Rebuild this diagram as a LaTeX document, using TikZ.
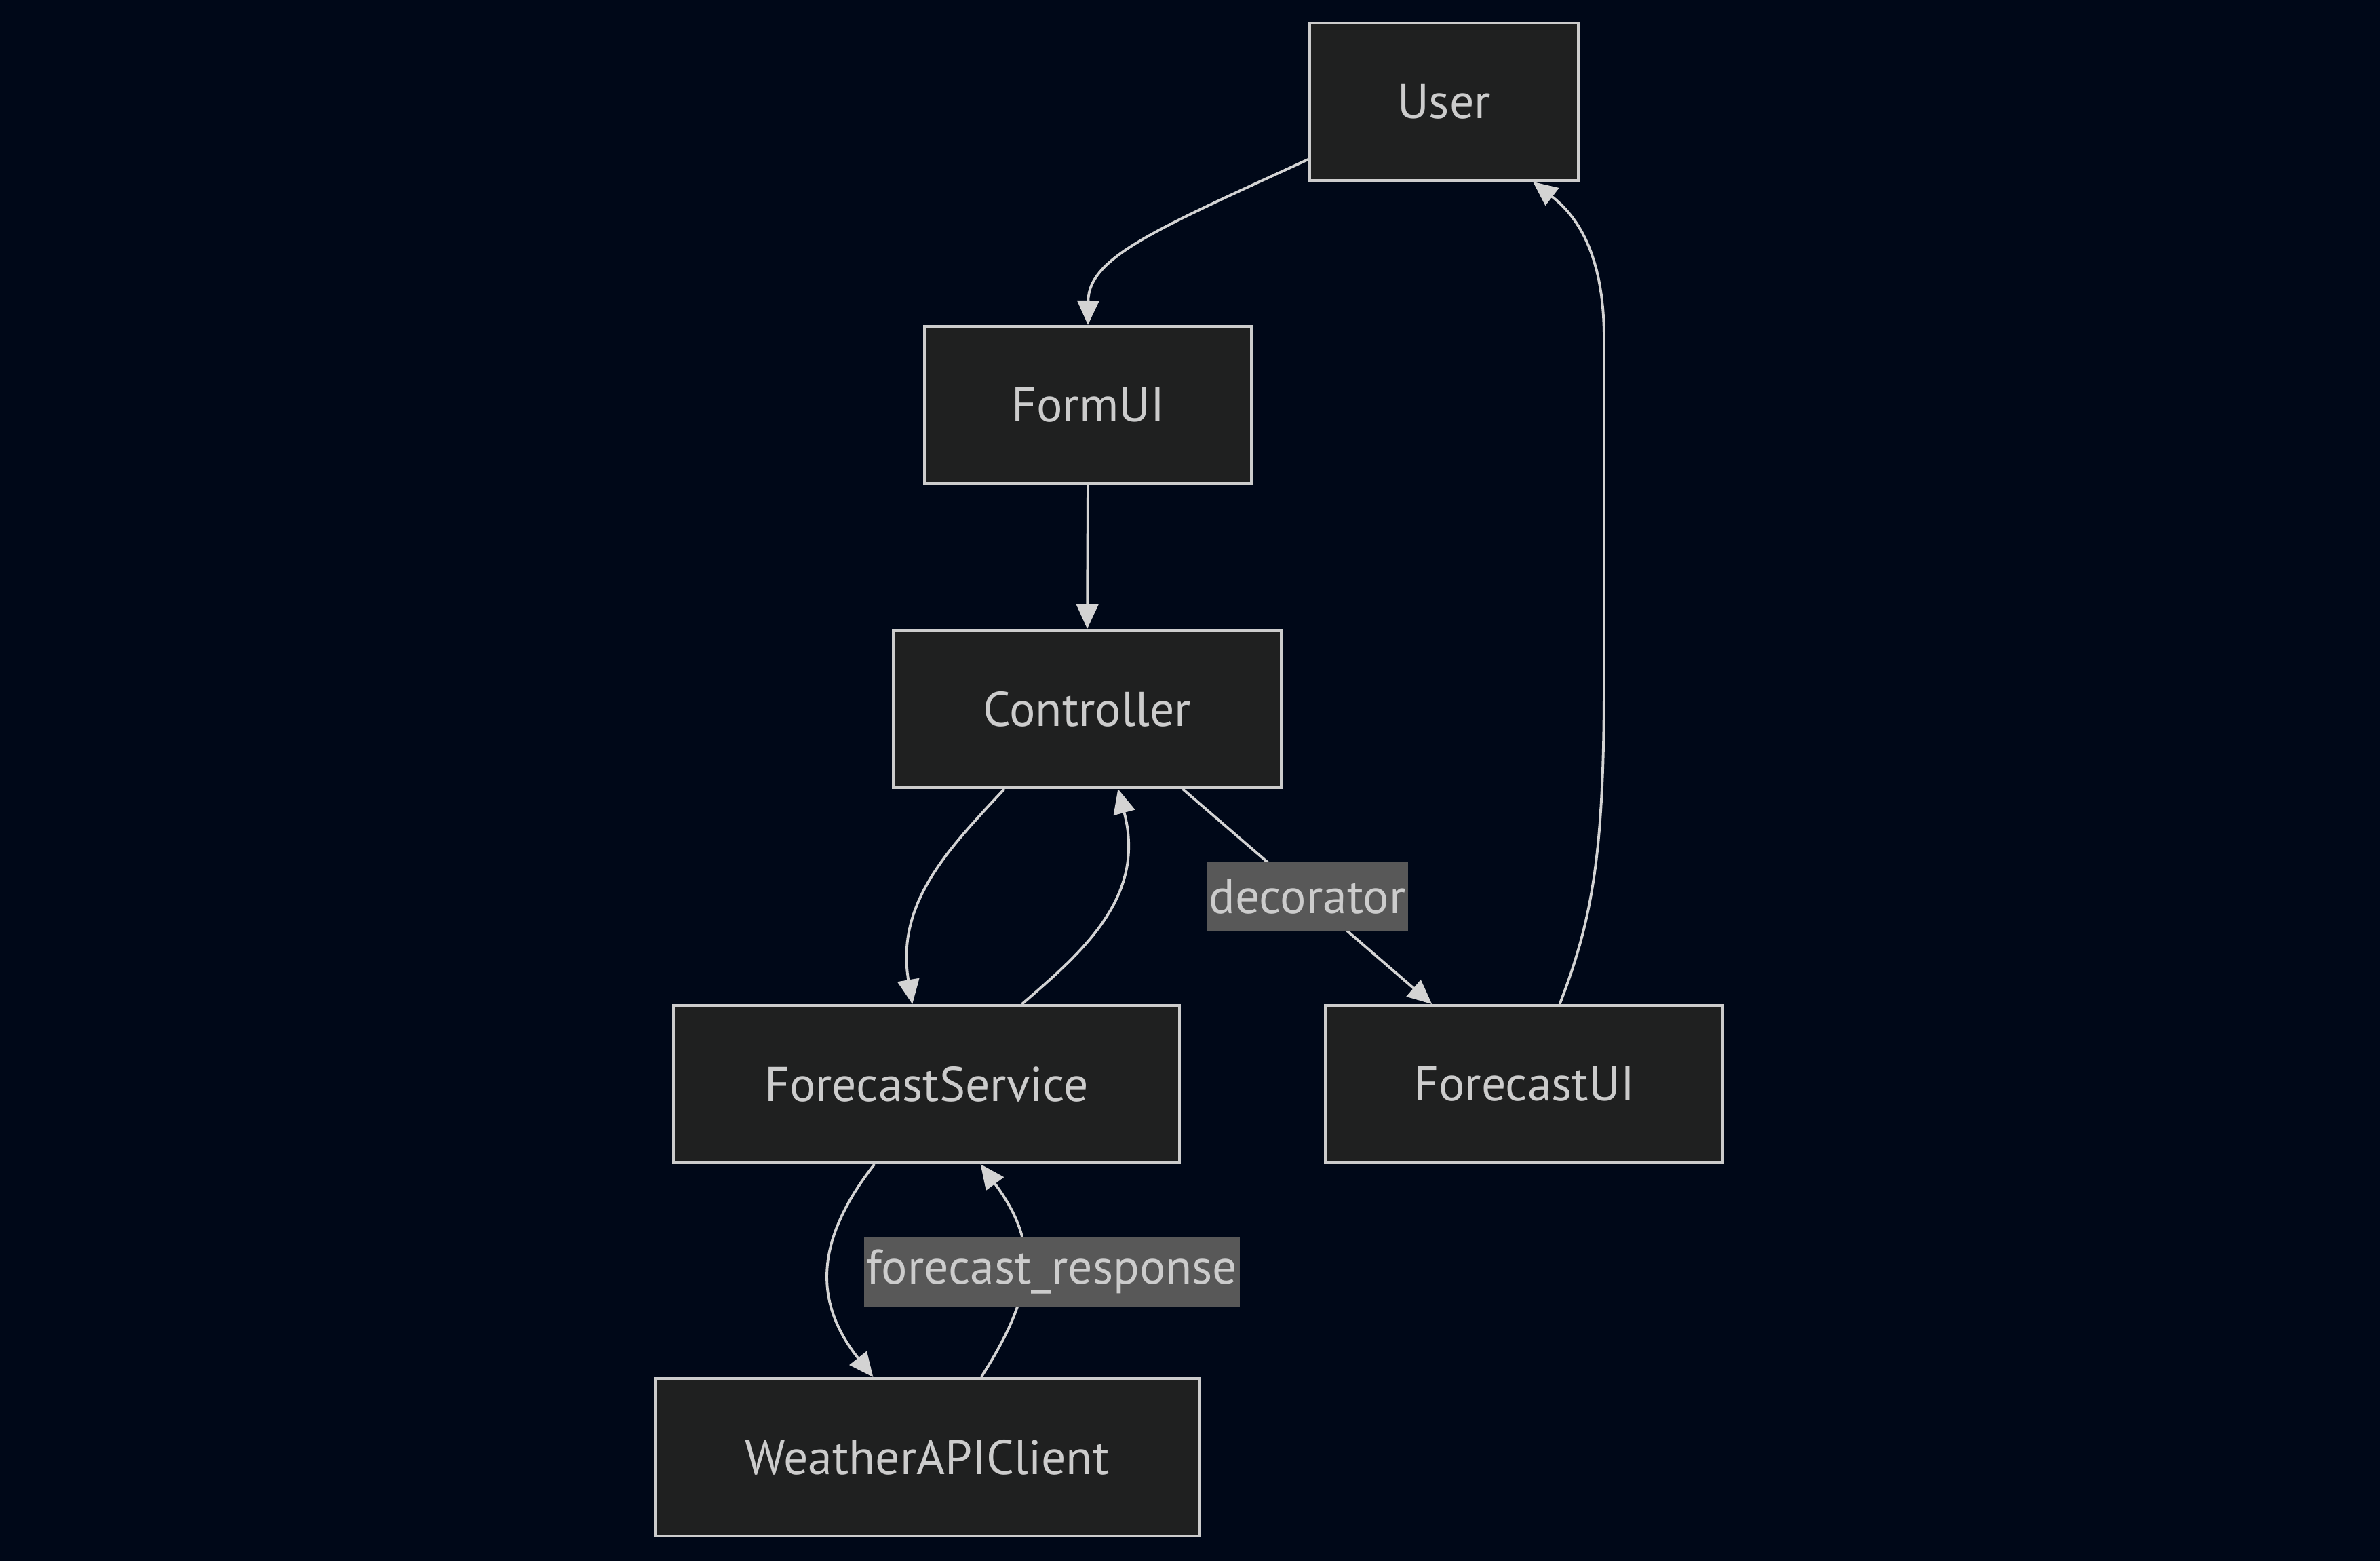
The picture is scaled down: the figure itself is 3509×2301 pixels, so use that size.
\documentclass[tikz,border=0pt]{standalone}
\usepackage{fontspec}
\setmainfont{PT Sans}
\usetikzlibrary{arrows.meta}
\definecolor{bgnavy}{HTML}{000818}
\definecolor{boxfill}{HTML}{1F2020}
\definecolor{boxline}{HTML}{CCCCCC}
\definecolor{boxtext}{HTML}{CCCCCC}
\definecolor{linkgrey}{HTML}{D3D3D3}
\definecolor{tagfill}{HTML}{585858}

\begin{document}
\begin{tikzpicture}[x=0.01cm, y=-0.01cm,
		box/.style={draw=boxline, fill=boxfill, line width=1.1pt, text=boxtext, inner sep=0pt,
			minimum height=2.32cm, font=\fontsize{20.4}{24}\selectfont},
		link/.style={draw=linkgrey, line width=1.1pt, -{Triangle[length=0.36cm, width=0.32cm]}},
		edgetag/.style={fill=tagfill, text=boxtext, inner xsep=1pt, inner ysep=0pt,
			minimum height=1.02cm, font=\fontsize{20.4}{24}\selectfont}]
		\fill[bgnavy] (0,0) rectangle (3509,2301);
		\useasboundingbox (0,0) rectangle (3509,2301);
		% boxes
		\node[box, minimum width=3.96cm] (user) at (2129,150) {User};
		\node[box, minimum width=4.81cm] (formui) at (1604,597) {FormUI};
		\node[box, minimum width=5.71cm] (controller) at (1603,1045) {Controller};
		\node[box, minimum width=7.45cm] (service) at (1366,1598) {ForecastService};
		\node[box, minimum width=5.86cm] (forecastui) at (2247,1598) {ForecastUI};
		\node[box, minimum width=8.01cm] (apiclient) at (1367,2148) {WeatherAPIClient};
		% links
		\draw[link] (user.203) .. controls (1700,340) and (1605,380) .. (formui.north);
		\draw[link] (formui.south) -- (controller.north);
		\draw[link] (controller.224) .. controls (1400,1250) and (1320,1330) .. (service.100);
		\draw[link] (service.40) .. controls (1600,1400) and (1690,1320) .. (controller.291);
		\draw[link] (controller.320) -- node[edgetag] (dectag) {decorator} (forecastui.139);
		\draw[link] (forecastui.66) .. controls (2350,1350) and (2365,1250) .. (2365,1000)
			-- (2365,500) .. controls (2365,400) and (2340,330) .. (user.318);
		\draw[link] (service.237) .. controls (1200,1830) and (1200,1920) .. (apiclient.124);
		\draw[link] (apiclient.56) .. controls (1530,1900) and (1530,1830) ..
			node[edgetag, pos=0.5, xshift=0.42cm, yshift=-0.08cm] (resptag) {forecast\_response} (service.304);
	\end{tikzpicture}
\end{document}
